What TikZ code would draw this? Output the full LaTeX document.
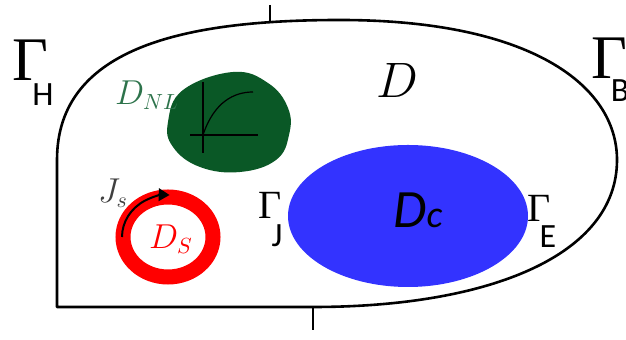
\documentclass[tikz,border=0pt]{standalone}
\usepackage{fontspec}
\setsansfont{Carlito}
\newfontfamily\gamfont{Liberation Serif}
\usepackage{xcolor}
\definecolor{nlgreen}{RGB}{10,88,38}
\definecolor{nllabel}{RGB}{45,115,75}
\definecolor{coreblue}{RGB}{51,51,255}
\definecolor{jgray}{RGB}{64,64,64}
\usepackage{tikz}
\usetikzlibrary{arrows.meta}

\begin{document}
\begin{tikzpicture}[
    x=0.5pt, y=-0.5pt,
    >=Triangle,
    boundary/.style={line width=1.3pt, line join=round},
    tick/.style={line width=1.1pt},
    biggam/.style={inner sep=0pt, font=\gamfont\fontsize{31}{31}\selectfont},
    smallgam/.style={inner sep=0pt, font=\gamfont\fontsize{20}{20}\selectfont},
    sublabel/.style={inner sep=0pt, font=\sffamily\fontsize{17}{17}\selectfont},
    domlabel/.style={inner sep=0pt, font=\fontsize{16}{16}\selectfont}
  ]
  \useasboundingbox (0,0) rectangle (626,340);

  % Outer boundary of D
  \draw[boundary] (57,307) -- (57,160)
    .. controls (57,45) and (190,20) .. (340,20)
    .. controls (530,20) and (617,85) .. (617,160)
    .. controls (617,255) and (490,307) .. (313,307) -- cycle;
  \draw[tick] (270,5) -- (270,22);
  \draw[tick] (313,307) -- (313,330);

  % Nonlinear region D_NL
  \fill[nlgreen] plot[smooth cycle, tension=0.7] coordinates
    {(233,72) (268,83) (288,108) (289,135) (276,160) (240,172) (200,167) (173,147) (168,122) (183,90)};
  \draw[line width=0.6pt] (203,82) -- (203,153);
  \draw[line width=0.6pt] (190,135) -- (258,135);
  \draw[line width=0.6pt] (203,135) .. controls (214,102) and (234,92) .. (253,92);

  % Source coil D_S
  \draw[red, line width=7.5pt] (168,237) ellipse [x radius=45, y radius=40];
  \draw[->, line width=1pt] (168,237) ++(180:46 and 42) arc [start angle=180, end angle=272, x radius=46, y radius=42];

  % Conductor D_c
  \fill[coreblue] (408,216) ellipse [x radius=120, y radius=71];

  % Labels
  \node (gamH) at (30,60) [biggam] {Γ};
  \node (subH) at (43,95) [sublabel] {H};
  \node (gamB) at (609,58) [biggam] {Γ};
  \node (subB) at (620,91) [sublabel] {B};
  \node (gamJ) at (270,205) [smallgam] {Γ};
  \node (subJ) at (277,236) [sublabel] {J};
  \node (gamE) at (539,208) [smallgam] {Γ};
  \node (subE) at (548,237) [sublabel] {E};
  \node (dom) at (397,81) [inner sep=0pt, font=\fontsize{23}{23}\selectfont] {$D$};
  \node (dnl) at (147,95) [domlabel, text=nllabel] {$D_{NL}$};
  \node (js) at (113,193) [domlabel, text=jgray] {$J_s$};
  \node (ds) at (171,239) [domlabel, text=red] {$D_S$};
  \node (dc) at (418,210) [inner sep=0pt, font=\sffamily\itshape\fontsize{27}{27}\selectfont] {D{\fontsize{19}{19}\selectfont c}};

\end{tikzpicture}
\end{document}
